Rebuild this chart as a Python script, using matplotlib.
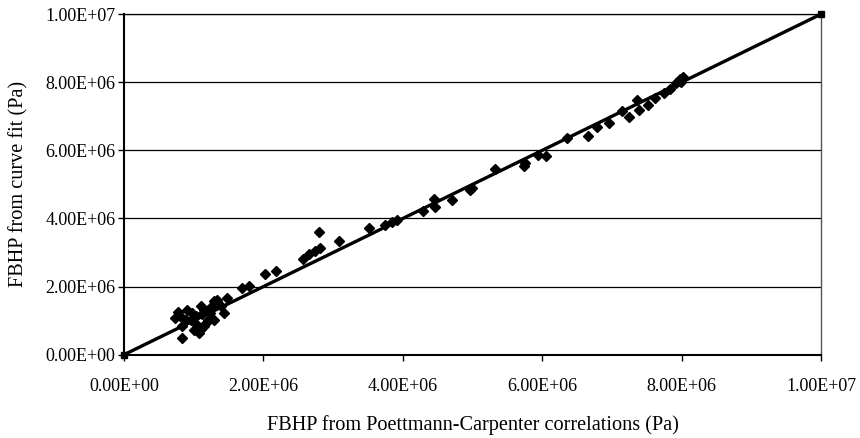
import matplotlib
matplotlib.use("Agg")
import matplotlib.pyplot as plt
from matplotlib.ticker import FormatStrFormatter

plt.rcParams['font.family'] = ['Liberation Serif', 'DejaVu Serif']

# FBHP from Poettmann-Carpenter correlations (Pa) vs FBHP from curve fit (Pa)
x_pc = [0.77e6, 0.91e6, 0.74e6, 0.84e6, 0.84e6, 1.10e6, 1.03e6, 0.96e6, 1.00e6, 1.08e6,
        1.15e6, 1.20e6, 1.29e6, 1.34e6, 1.39e6, 1.44e6, 1.48e6, 1.29e6, 1.15e6, 1.24e6,
        1.05e6, 0.89e6, 1.70e6, 1.79e6, 2.03e6, 2.18e6, 2.57e6, 2.66e6, 2.74e6, 2.81e6,
        2.80e6, 3.08e6, 3.52e6, 3.74e6, 3.84e6, 3.91e6, 4.29e6, 4.44e6, 4.46e6, 4.70e6,
        4.99e6, 4.96e6, 5.32e6, 5.74e6, 5.75e6, 5.94e6, 6.05e6, 6.35e6, 6.65e6, 6.78e6,
        6.95e6, 7.14e6, 7.24e6, 7.36e6, 7.38e6, 7.52e6, 7.62e6, 7.74e6, 7.83e6, 7.91e6,
        7.98e6, 8.02e6, 7.96e6, 7.99e6, 1.10e6, 1.18e6, 1.12e6, 0.98e6, 1.25e6, 0.80e6]
y_fit = [1.27e6, 1.32e6, 1.08e6, 0.83e6, 0.49e6, 1.42e6, 1.13e6, 1.03e6, 0.74e6, 0.64e6,
         0.83e6, 1.03e6, 1.03e6, 1.62e6, 1.42e6, 1.23e6, 1.67e6, 1.57e6, 1.32e6, 1.23e6,
         0.88e6, 1.03e6, 1.96e6, 2.01e6, 2.38e6, 2.45e6, 2.81e6, 2.96e6, 3.05e6, 3.13e6,
         3.60e6, 3.35e6, 3.71e6, 3.81e6, 3.91e6, 3.96e6, 4.23e6, 4.57e6, 4.35e6, 4.55e6,
         4.89e6, 4.84e6, 5.45e6, 5.54e6, 5.62e6, 5.87e6, 5.82e6, 6.35e6, 6.43e6, 6.68e6,
         6.81e6, 7.16e6, 6.97e6, 7.48e6, 7.18e6, 7.33e6, 7.53e6, 7.67e6, 7.79e6, 7.97e6,
         8.08e6, 8.14e6, 8.04e6, 8.00e6, 0.75e6, 0.92e6, 1.20e6, 1.22e6, 1.40e6, 1.15e6]

# 1:1 reference line
line_x = [0, 1.0e7]
line_y = [0, 1.0e7]

ticks = [0, 2e6, 4e6, 6e6, 8e6, 1e7]

fig = plt.figure(figsize=(8.6, 4.38), dpi=100)
ax = fig.add_axes([0.144, 0.19, 0.811, 0.778])

ax.plot(x_pc, y_fit, linestyle='none', marker='D', markersize=4.8,
        color='black', zorder=3)
ax.plot(line_x, line_y, color='black', linewidth=2.4, marker='s',
        markersize=4, zorder=4, clip_on=False)

ax.set_xlim(0, 1e7)
ax.set_ylim(0, 1e7)
ax.set_xticks(ticks)
ax.set_yticks(ticks)
ax.xaxis.set_major_formatter(FormatStrFormatter('%.2E'))
ax.yaxis.set_major_formatter(FormatStrFormatter('%.2E'))

ax.yaxis.grid(True, color='black', linewidth=0.9)
ax.set_axisbelow(True)

for side in ['left', 'bottom']:
    ax.spines[side].set_linewidth(1.5)
ax.spines['top'].set_linewidth(0.9)
ax.spines['right'].set_color('#555555')
ax.spines['right'].set_linestyle((0, (1, 1)))
ax.spines['right'].set_linewidth(1.0)

ax.tick_params(axis='y', direction='out', length=4, width=1, pad=2, labelsize=13)
ax.tick_params(axis='x', direction='out', length=4, width=1, pad=13, labelsize=13)

ax.set_xlabel('FBHP from Poettmann-Carpenter correlations (Pa)', fontsize=14.6, labelpad=14)
ax.set_ylabel('FBHP from curve fit (Pa)', fontsize=14.6, labelpad=12)

fig.savefig('out.png', dpi=100)
